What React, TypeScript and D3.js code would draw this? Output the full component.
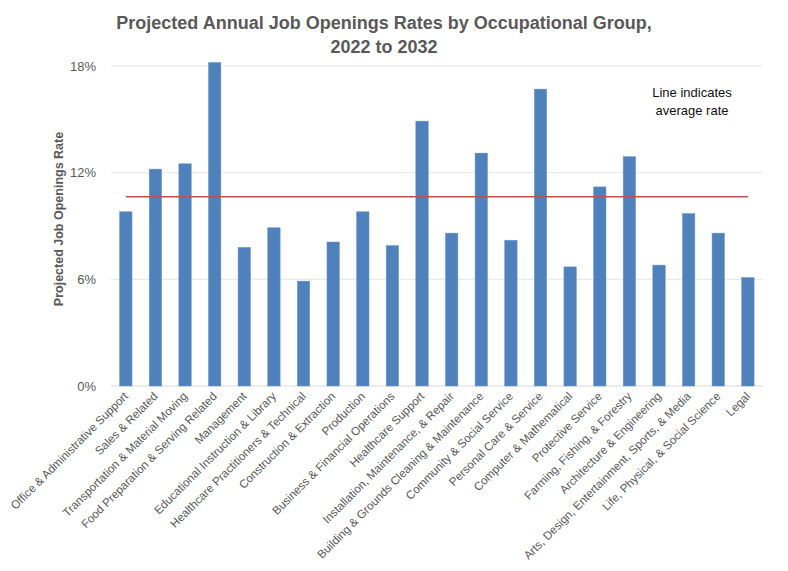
import * as d3 from "d3";

const categories = [
  "Office & Administrative Support",
  "Sales & Related",
  "Transportation & Material Moving",
  "Food Preparation & Serving Related",
  "Management",
  "Educational Instruction & Library",
  "Healthcare Practitioners & Technical",
  "Construction & Extraction",
  "Production",
  "Business & Financial Operations",
  "Healthcare Support",
  "Installation, Maintenance, & Repair",
  "Building & Grounds Cleaning & Maintenance",
  "Community & Social Service",
  "Personal Care & Service",
  "Computer & Mathematical",
  "Protective Service",
  "Farming, Fishing, & Forestry",
  "Architecture & Engineering",
  "Arts, Design, Entertainment, Sports, & Media",
  "Life, Physical, & Social Science",
  "Legal",
];

// projected annual job openings rate, %
const rates = [
  9.8, 12.2, 12.5, 18.2, 7.8, 8.9, 5.9, 8.1, 9.8, 7.9, 14.9, 8.6, 13.1, 8.2,
  16.7, 6.7, 11.2, 12.9, 6.8, 9.7, 8.6, 6.1,
];

const averageRate = 10.65;
const yTicks = [0, 6, 12, 18];

const width = 788;
const height = 571;
const margin = { top: 66, right: 25, bottom: 185, left: 111 };
const innerWidth = 762.7 - margin.left;
const innerHeight = 386 - margin.top;

const font = "'Liberation Sans', Arial, sans-serif";
const gray = "#595959";

export default function App() {
  const x = d3
    .scaleBand<string>()
    .domain(categories)
    .range([0, innerWidth])
    .paddingInner(0.58)
    .paddingOuter(0.29);

  const y = d3.scaleLinear().domain([0, 18]).range([innerHeight, 0]);

  const center = (c: string) => (x(c) ?? 0) + x.bandwidth() / 2;

  const avgLine = d3
    .line<string>()
    .x((c) => center(c))
    .y(() => y(averageRate));

  return (
    <svg
      width={width}
      height={height}
      style={{ position: "absolute", left: 0, top: 0, background: "#fff" }}
      fontFamily={font}
    >
      {/* Título */}
      <text
        x={384}
        y={29}
        textAnchor="middle"
        fontSize={18}
        fontWeight="bold"
        fill={gray}
      >
        Projected Annual Job Openings Rates by Occupational Group,
      </text>
      <text
        x={384}
        y={53}
        textAnchor="middle"
        fontSize={18}
        fontWeight="bold"
        fill={gray}
      >
        2022 to 2032
      </text>

      <g transform={`translate(${margin.left},${margin.top})`}>
        {/* Cuadrícula */}
        {yTicks.map((t) => (
          <g key={t}>
            <line
              x1={0}
              x2={innerWidth}
              y1={y(t)}
              y2={y(t)}
              stroke={t === 0 ? "#d9d9d9" : "#e6e6e6"}
              strokeWidth={1}
            />
            <text
              x={-15}
              y={y(t)}
              dy="0.35em"
              textAnchor="end"
              fontSize={13}
              fill={gray}
            >
              {`${t}%`}
            </text>
          </g>
        ))}

        {/* Barras */}
        {categories.map((c, i) => (
          <rect
            key={c}
            x={x(c)}
            y={y(rates[i])}
            width={x.bandwidth()}
            height={innerHeight - y(rates[i])}
            fill="#4f81bd"
            stroke="#6f99cc"
            strokeWidth={0.5}
          />
        ))}

        {/* Línea de promedio */}
        <path
          d={avgLine([categories[0], categories[categories.length - 1]]) ?? ""}
          fill="none"
          stroke="#c0504d"
          strokeWidth={1.5}
        />

        {/* Etiquetas del eje X */}
        {categories.map((c) => (
          <text
            key={c}
            transform={`translate(${center(c) + 3},${innerHeight + 11}) rotate(-45)`}
            textAnchor="end"
            fontSize={11.6}
            fill={gray}
          >
            {c}
          </text>
        ))}
      </g>

      {/* Eje Y */}
      <text
        transform={`translate(63,${219}) rotate(-90)`}
        textAnchor="middle"
        fontSize={12.5}
        fontWeight="bold"
        fill={gray}
      >
        Projected Job Openings Rate
      </text>

      {/* Nota */}
      <text x={692} y={97} textAnchor="middle" fontSize={13} fill="#111">
        Line indicates
      </text>
      <text x={692} y={115} textAnchor="middle" fontSize={13} fill="#111">
        average rate
      </text>
    </svg>
  );
}
